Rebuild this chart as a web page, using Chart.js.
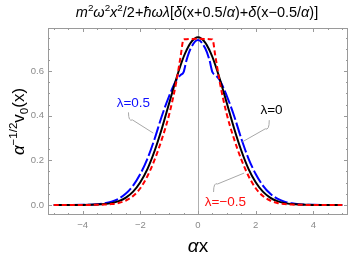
<!DOCTYPE html>
<html>
<head>
<meta charset="utf-8">
<script src="https://cdn.jsdelivr.net/npm/chart.js@4.4.1/dist/chart.umd.min.js"></script>
<style>
  html, body { margin: 0; padding: 0; background: #fff; }
  #wrap { width: 354px; height: 258px; position: relative; }
</style>
</head>
<body>
<div id="wrap"><canvas id="psi-chart"></canvas></div>
<script>
// sample positions (alpha x)
const xs = [-5, -4.5, -4, -3.75, -3.5, -3.25, -3, -2.75, -2.5, -2.25, -2, -1.75, -1.5, -1.25, -1, -0.75, -0.6, -0.5, -0.4, -0.25,
            0, 0.25, 0.4, 0.5, 0.6, 0.75, 1, 1.25, 1.5, 1.75, 2, 2.25, 2.5, 2.75, 3, 3.25, 3.5, 3.75, 4, 4.5, 5];

// lambda = 0 (black)
const psiZero = [0, 0.00003, 0.0003, 0.0007, 0.0016, 0.0038, 0.0083, 0.017, 0.033, 0.060, 0.102, 0.162, 0.244, 0.344, 0.456, 0.567, 0.627, 0.663, 0.693, 0.728,
                 0.751, 0.728, 0.693, 0.663, 0.627, 0.567, 0.456, 0.344, 0.244, 0.162, 0.102, 0.060, 0.033, 0.017, 0.0083, 0.0038, 0.0016, 0.0007, 0.0003, 0.00003, 0];
// lambda = -0.5 (red dashed)
const psiNeg = [0, 0, 0.0001, 0.0003, 0.0007, 0.0017, 0.004, 0.009, 0.020, 0.040, 0.075, 0.130, 0.204, 0.296, 0.405, 0.553, 0.668, 0.742, 0.743, 0.744,
                0.745, 0.744, 0.743, 0.742, 0.668, 0.553, 0.405, 0.296, 0.204, 0.130, 0.075, 0.040, 0.020, 0.009, 0.004, 0.0017, 0.0007, 0.0003, 0.0001, 0, 0];
// lambda = 0.5 (blue long dash)
const psiPos = [0, 0.0001, 0.0005, 0.0014, 0.0033, 0.0072, 0.0145, 0.028, 0.051, 0.087, 0.139, 0.208, 0.298, 0.400, 0.488, 0.560, 0.583, 0.595, 0.648, 0.702,
                0.739, 0.702, 0.648, 0.595, 0.583, 0.560, 0.488, 0.400, 0.298, 0.208, 0.139, 0.087, 0.051, 0.028, 0.0145, 0.0072, 0.0033, 0.0014, 0.0005, 0.0001, 0];

const xTicks = [-4, -2, 0, 2, 4];
const yTicks = [0, 0.2, 0.4, 0.6];
const xMinorStep = 0.5;
const yMinorStep = 0.05;

const FONT = '"Liberation Sans", Arial, sans-serif';
const GRAY = '#8a8a8a';

function pts(vals) {
    return xs.map((x, i) => ({x: x, y: vals[i]}));
}

// draws a list of text runs (italic / superscript / subscript) on one line
function drawRuns(ctx, runs, x, y, size, align) {
    const fontOf = (r) => {
        const s = (r.sup || r.sub) ? size * 0.68 : size;
        return (r.it ? 'italic ' : '') + s + 'px ' + FONT;
    };
    let total = 0;
    runs.forEach((r) => { ctx.font = fontOf(r); r.w = ctx.measureText(r.t).width; total += r.w; });
    let cx = align === 'center' ? x - total / 2 : x;
    ctx.textAlign = 'left';
    ctx.textBaseline = 'alphabetic';
    runs.forEach((r) => {
        ctx.font = fontOf(r);
        let dy = 0;
        if (r.sup) dy = -size * 0.4;
        if (r.sub) dy = size * 0.22;
        ctx.fillText(r.t, cx, y + dy);
        cx += r.w;
    });
}

const titleRuns = [
    {t: 'm', it: true}, {t: '2', sup: true}, {t: 'ω', it: true}, {t: '2', sup: true}, {t: 'x', it: true}, {t: '2', sup: true},
    {t: '/2+'}, {t: 'ħωλ', it: true}, {t: '['}, {t: 'δ', it: true}, {t: '(x+0.5/'}, {t: 'α', it: true}, {t: ')+'},
    {t: 'δ', it: true}, {t: '(x−0.5/'}, {t: 'α', it: true}, {t: ')]'}
];
const yTitleRuns = [{t: 'α', it: true}, {t: '−1/2', sup: true}, {t: 'v'}, {t: '0', sub: true}, {t: '(x)'}];
const xTitleRuns = [{t: 'α', it: true}, {t: 'x'}];

// callout labels: text, colour, text anchor and leader path in data units
const callouts = [
    {text: 'λ=0.5', color: '#1010ff', at: [-2.24, 0.457], path: [[-2.41, 0.415], [-2.41, 0.39], [-1.55, 0.322]]},
    {text: 'λ=0', color: '#000', at: [2.55, 0.423], path: [[2.47, 0.38], [2.47, 0.35], [1.54, 0.283]]},
    {text: 'λ=−0.5', color: '#ff1010', at: [0.95, 0.013], path: [[0.54, 0.058], [0.54, 0.085], [1.6, 0.143]]}
];

const framePlugin = {
    id: 'frame',
    beforeDatasetsDraw(chart) {
        const {ctx, chartArea: a, scales: {x}} = chart;
        ctx.save();
        ctx.strokeStyle = '#b0b0b0';
        ctx.lineWidth = 1;
        const px = Math.round(x.getPixelForValue(0)) + 0.5;
        ctx.beginPath();
        ctx.moveTo(px, a.top);
        ctx.lineTo(px, a.bottom);
        ctx.stroke();
        ctx.restore();
    },
    afterDatasetsDraw(chart) {
        const {ctx, chartArea: a, scales: {x, y}} = chart;
        ctx.save();
        // frame
        ctx.strokeStyle = '#9a9a9a';
        ctx.lineWidth = 1;
        ctx.strokeRect(a.left + 0.5, a.top + 0.5, a.right - a.left - 1, a.bottom - a.top - 1);
        // inward ticks
        ctx.beginPath();
        for (let v = -5; v <= 5.001; v += xMinorStep) {
            const major = xTicks.some((t) => Math.abs(t - v) < 1e-6);
            const len = major ? 4 : 2;
            const p = Math.round(x.getPixelForValue(v)) + 0.5;
            ctx.moveTo(p, a.bottom); ctx.lineTo(p, a.bottom - len);
            ctx.moveTo(p, a.top); ctx.lineTo(p, a.top + len);
        }
        for (let v = 0; v <= 0.78; v += yMinorStep) {
            const major = yTicks.some((t) => Math.abs(t - v) < 1e-6);
            const len = major ? 4 : 2;
            const p = Math.round(y.getPixelForValue(v)) + 0.5;
            ctx.moveTo(a.left, p); ctx.lineTo(a.left + len, p);
            ctx.moveTo(a.right, p); ctx.lineTo(a.right - len, p);
        }
        ctx.stroke();

        // callouts
        callouts.forEach((c) => {
            const P = c.path.map(([vx, vy]) => [x.getPixelForValue(vx), y.getPixelForValue(vy)]);
            ctx.strokeStyle = '#a8a8a8';
            ctx.lineWidth = 1;
            ctx.beginPath();
            ctx.moveTo(P[0][0], P[0][1]);
            ctx.quadraticCurveTo(P[1][0], P[1][1] + (P[1][1] > P[0][1] ? 4 : -4), P[1][0] + (P[2][0] > P[1][0] ? 4 : -4), P[1][1] + (P[2][1] > P[1][1] ? 2 : -2));
            ctx.lineTo(P[2][0], P[2][1]);
            ctx.stroke();
            ctx.fillStyle = c.color;
            ctx.font = '13.5px ' + FONT;
            ctx.textAlign = 'center';
            ctx.textBaseline = 'middle';
            ctx.fillText(c.text, x.getPixelForValue(c.at[0]), y.getPixelForValue(c.at[1]));
        });

        // titles
        ctx.fillStyle = '#000';
        drawRuns(ctx, titleRuns, 197, 17, 14.5, 'center');
        drawRuns(ctx, xTitleRuns, (a.left + a.right) / 2, 252, 19, 'center');
        ctx.translate(24, (a.top + a.bottom) / 2);
        ctx.rotate(-Math.PI / 2);
        drawRuns(ctx, yTitleRuns, 0, 0, 17, 'center');
        ctx.restore();
    }
};

function loadChart() {
    const ctx = document.getElementById('psi-chart').getContext('2d');
    new Chart(ctx, {
        type: 'line',
        data: {
            datasets: [{
                label: 'λ=-0.5',
                data: pts(psiNeg),
                borderColor: '#ff0000',
                borderWidth: 2,
                borderDash: [5, 3],
                order: 0
            }, {
                label: 'λ=0',
                data: pts(psiZero),
                borderColor: '#000000',
                borderWidth: 2,
                order: 1
            }, {
                label: 'λ=0.5',
                data: pts(psiPos),
                borderColor: '#0000ff',
                borderWidth: 2,
                borderDash: [14, 3],
                order: 2
            }]
        },
        options: {
            responsive: false,
            animation: false,
            devicePixelRatio: 1,
            layout: {padding: {top: 28, right: 6, left: 0, bottom: 0}},
            elements: {
                point: {radius: 0},
                line: {cubicInterpolationMode: 'monotone', fill: false}
            },
            plugins: {legend: {display: false}, title: {display: false}, tooltip: {enabled: false}},
            scales: {
                x: {
                    type: 'linear',
                    min: -5.2,
                    max: 5.2,
                    afterBuildTicks: (s) => { s.ticks = xTicks.map((v) => ({value: v})); },
                    afterFit: (s) => { s.height = 43; },
                    grid: {display: false, drawTicks: false},
                    border: {display: false},
                    ticks: {
                        color: GRAY,
                        font: {size: 9.5, family: FONT},
                        padding: 5,
                        maxRotation: 0,
                        callback: (v) => (v < 0 ? '−' + Math.abs(v) : String(v))
                    }
                },
                y: {
                    min: -0.045,
                    max: 0.793,
                    afterBuildTicks: (s) => { s.ticks = yTicks.map((v) => ({value: v})); },
                    afterFit: (s) => { s.width = 48; },
                    grid: {display: false, drawTicks: false},
                    border: {display: false},
                    ticks: {
                        color: GRAY,
                        font: {size: 9.5, family: FONT},
                        padding: 4,
                        callback: (v) => v.toFixed(1)
                    }
                }
            }
        },
        plugins: [framePlugin]
    });
}

const cv = document.getElementById('psi-chart');
cv.width = 354;
cv.height = 258;
cv.style.width = '354px';
cv.style.height = '258px';

window.addEventListener('load', () => {
    loadChart();
});
</script>
</body>
</html>
